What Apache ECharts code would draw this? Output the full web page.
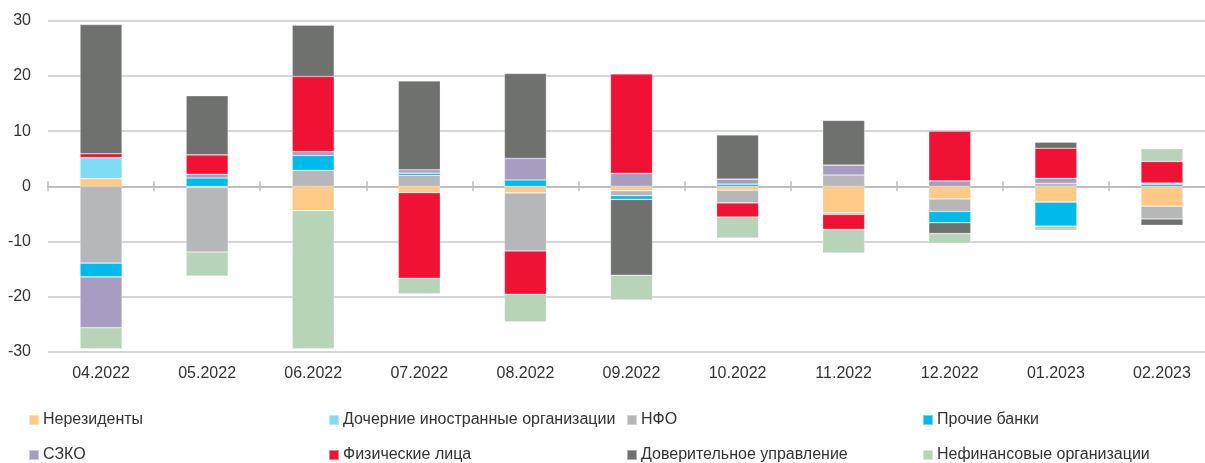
<!DOCTYPE html>
<html>
<head>
<meta charset="utf-8">
<script src="https://cdn.jsdelivr.net/npm/echarts@6/dist/echarts.min.js"></script>
<style>
html, body { margin: 0; padding: 0; background: #fff; }
#canvas_main { width: 1205px; height: 463px; }
</style>
</head>
<body>
<div id="canvas_main"></div>
<script>
var months = ['04.2022', '05.2022', '06.2022', '07.2022', '08.2022', '09.2022', '10.2022', '11.2022', '12.2022', '01.2023', '02.2023'];

var nerezidenty   = [1.4, -0.2, -4.4, -1.15, -1.2, -0.8, -0.7, -4.85, -2.3, -2.85, -3.6];
var dochernie     = [3.8, 0, 0, 0, 0, 0, 0, 0, 0, 0, 0];
var nfo           = [-13.9, -11.7, 2.9, 2.0, -10.5, -0.9, -2.3, 2.05, -2.25, 0.55, -2.3];
var prochieBanki  = [-2.5, 1.5, 2.7, 0.4, 1.15, -0.65, 0.4, -0.25, -2.05, -4.35, 0.4];
var szko          = [-9.2, 0.7, 0.7, 0.6, 3.9, 2.35, 0.9, 1.8, 1.0, 0.9, 0.2];
var fizLica       = [0.7, 3.5, 13.6, -15.5, -7.85, 18.0, -2.55, -2.7, 9.0, 5.45, 3.9];
var doveritelnoe  = [23.4, 10.7, 9.3, 16.1, 15.4, -13.75, 8.0, 8.1, -1.95, 1.1, -1.15];
var nefinansovye  = [-3.8, -4.35, -25.0, -2.8, -5.0, -4.5, -3.8, -4.3, -1.75, -0.75, 2.3];

var yTicks = [-30, -20, -10, 0, 10, 20, 30];

var names = ['Нерезиденты', 'Дочерние иностранные организации', 'НФО', 'Прочие банки',
             'СЗКО', 'Физические лица', 'Доверительное управление', 'Нефинансовые организации'];
var values = [nerezidenty, dochernie, nfo, prochieBanki, szko, fizLica, doveritelnoe, nefinansovye];
var colors = ['#FFC987', '#7FDCF5', '#B6B7B8', '#00BAEB', '#A79DC0', '#EF1234', '#6F716F', '#B8D4B8'];

var font = 'Liberation Sans';
var myChart = echarts.init(document.getElementById('canvas_main'));

var series = names.map(function (n, i) {
    return {
        name: n,
        type: 'bar',
        stack: 'all',
        barWidth: 42,
        data: values[i],
        itemStyle: { color: colors[i], borderColor: 'rgba(255,255,255,0.45)', borderWidth: 0.6 }
    };
});

// legend in 4 columns, 2 rows
var colX = [28, 328, 626, 922];
var rowY = [412, 447];
var legends = names.map(function (n, i) {
    return {
        data: [n],
        left: colX[i % 4],
        top: rowY[Math.floor(i / 4)],
        padding: 0,
        icon: 'rect',
        itemWidth: 10,
        itemHeight: 10,
        itemGap: 0,
        selectedMode: false,
        textStyle: { fontFamily: font, fontSize: 16, color: '#333', padding: [0, 0, 0, -1] }
    };
});

var tickStyle = { color: '#BDBDBD', width: 1.5 };
var gridBox = { left: 48, right: -10, top: 20.7, bottom: 111, containLabel: false, outerBoundsMode: 'none' };

var option = {
    animation: false,
    backgroundColor: '#fff',
    legend: legends,
    grid: [gridBox, Object.assign({}, gridBox)],
    xAxis: [{
        // labels under the plot
        type: 'category',
        data: months,
        position: 'bottom',
        axisLine: { onZero: false, show: false },
        axisTick: { show: false },
        axisLabel: { margin: 14, fontFamily: font, fontSize: 16, color: '#333' }
    }, {
        // zero line with ticks going down
        type: 'category',
        data: months,
        position: 'bottom',
        axisLine: { onZero: true, lineStyle: tickStyle },
        axisTick: { show: true, length: 5, lineStyle: tickStyle },
        axisLabel: { show: false }
    }, {
        // second grid: ticks going up from the zero line
        type: 'category',
        gridIndex: 1,
        data: months,
        position: 'bottom',
        axisLine: { onZero: true, show: true, lineStyle: tickStyle },
        axisTick: { show: true, inside: true, length: 5, lineStyle: tickStyle },
        axisLabel: { show: false }
    }],
    yAxis: [{
        type: 'value',
        min: yTicks[0],
        max: yTicks[yTicks.length - 1],
        interval: 10,
        axisLine: { show: false },
        axisTick: { show: false },
        splitLine: { lineStyle: { color: '#C8C8C8', width: 1.5 } },
        axisLabel: { margin: 17, fontFamily: font, fontSize: 16, color: '#333' }
    }, {
        type: 'value',
        gridIndex: 1,
        min: yTicks[0],
        max: yTicks[yTicks.length - 1],
        interval: 10,
        axisLine: { show: false },
        axisTick: { show: false },
        splitLine: { show: false },
        axisLabel: { show: false }
    }],
    series: series
};
myChart.setOption(option);
</script>
</body>
</html>
